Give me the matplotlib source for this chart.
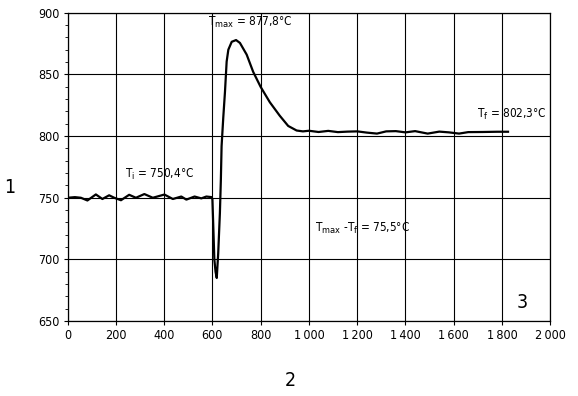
import numpy as np
import matplotlib
matplotlib.use("Agg")
import matplotlib.pyplot as plt
from matplotlib.ticker import MultipleLocator

# courbe de température
temps = [0, 30, 55, 82, 117, 144, 172, 193, 221, 255, 283, 318, 353, 401, 436, 471,
         492, 526, 554, 575, 597, 600, 604, 608, 613, 618, 624, 631, 635, 638, 645,
         652, 659, 666, 680, 698, 714, 742, 769, 800, 838, 879, 914, 949, 975,
         1000, 1040, 1080, 1120, 1160, 1200, 1240, 1282, 1320, 1360, 1400, 1440,
         1492, 1540, 1580, 1622, 1660, 1720, 1780, 1825]
temperature = [750, 750.5, 750, 747.8, 752.7, 749, 752, 750, 748, 752.4, 750, 753, 750,
               752.6, 749, 751, 748.5, 751, 749.5, 751, 750.5, 748.6, 724.3, 700,
               690, 685, 705, 737.7, 764.6, 791.8, 815, 835.7, 860.4, 870, 876.4,
               877.8, 875.5, 866, 852, 839.8, 827.4, 816.5, 808.2, 804.5, 803.8,
               804.3, 803.3, 804.2, 803.2, 803.6, 803.8, 802.8, 802, 803.8, 804, 803,
               804, 802, 803.6, 803, 802, 803.2, 803.3, 803.5, 803.5]

x_ticks = [0, 200, 400, 600, 800, 1000, 1200, 1400, 1600, 1800, 2000]
x_labels = ["0", "200", "400", "600", "800", "1\u2009000", "1\u2009200",
            "1\u2009400", "1\u2009600", "1\u2009800", "2\u2009000"]
y_ticks = [650, 700, 750, 800, 850, 900]

police = dict(family="DejaVu Sans", stretch="condensed")

fig = plt.figure(figsize=(5.78, 3.96), dpi=100)
ax = fig.add_axes([0.117, 0.189, 0.835, 0.779])

ax.plot(temps, temperature, color="black", lw=1.6, solid_joinstyle="round")

ax.set_xlim(0, 2000)
ax.set_ylim(650, 900)
ax.set_xticks(x_ticks)
ax.set_xticklabels(x_labels, fontsize=9, **police)
ax.set_yticks(y_ticks)
ax.set_yticklabels([str(v) for v in y_ticks], fontsize=9, **police)
ax.yaxis.set_minor_locator(MultipleLocator(10))
ax.tick_params(which="major", length=3, width=0.8, pad=3)
ax.tick_params(which="minor", length=2.5, width=0.6)
ax.grid(True, which="major", color="black", lw=0.8)
for s in ax.spines.values():
    s.set_linewidth(0.9)

ax.text(757, 892, r"T$_{\mathrm{max}}$ = 877,8°C", fontsize=8.5, ha="center", va="center", **police)
ax.text(380, 769, r"T$_{\mathrm{i}}$ = 750,4°C", fontsize=8.5, ha="center", va="center", **police)
ax.text(1843, 817.5, r"T$_{\mathrm{f}}$ = 802,3°C", fontsize=8.5, ha="center", va="center", **police)
ax.text(1223, 725, r"T$_{\mathrm{max}}$ -T$_{\mathrm{f}}$ = 75,5°C", fontsize=8.5,
        ha="center", va="center", **police)
ax.text(1885, 665, "3", fontsize=14, ha="center", va="center", **police)

fig.text(10 / 578, 1 - 188 / 396, "1", fontsize=14, ha="center", va="center", **police)
fig.text(290 / 578, 1 - 380 / 396, "2", fontsize=14, ha="center", va="center", **police)

fig.savefig("out.png", dpi=100)
